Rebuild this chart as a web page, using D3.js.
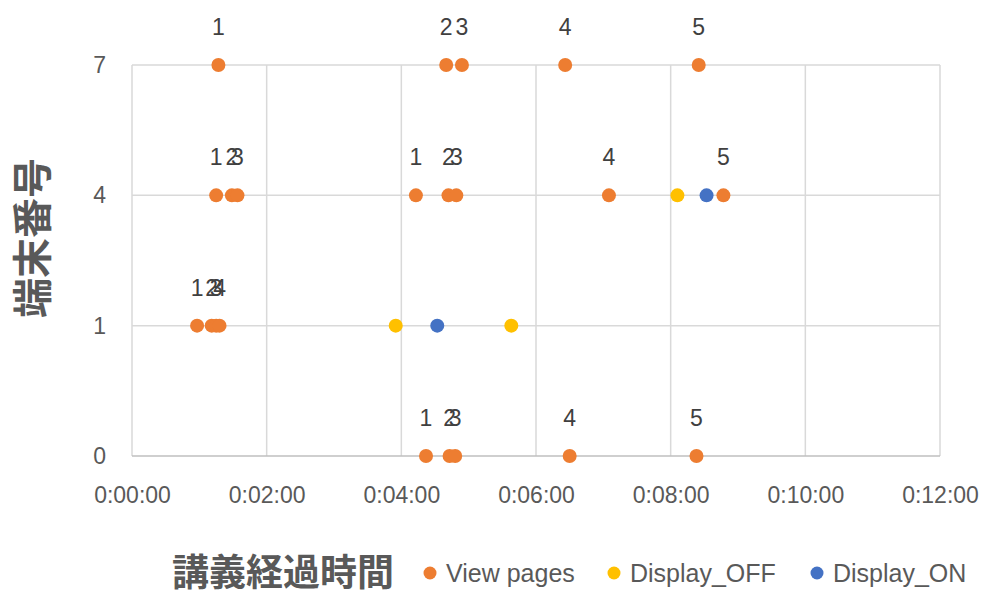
<!DOCTYPE html>
<html>
<head>
<meta charset="utf-8">
<script src="https://cdn.jsdelivr.net/npm/d3@7"></script>
<style>
  body { margin: 0; background: #fff; }
  text { font-family: "Liberation Sans", "DejaVu Sans", sans-serif; }
  .jp { font-family: "Noto Sans CJK JP", "Noto Sans CJK SC", sans-serif; }
</style>
</head>
<body>
<div id="plot"></div>
<script>
// ---- data ----
var terminalTicks = ["0", "1", "4", "7"];
var timeTicks = [0, 120, 240, 360, 480, 600, 720];
var timeTickLabels = ["0:00:00", "0:02:00", "0:04:00", "0:06:00", "0:08:00", "0:10:00", "0:12:00"];

// View pages
var viewTimes = ["0:01:17", "0:04:40", "0:04:54", "0:06:26", "0:08:25",
                 "0:01:15", "0:01:29", "0:01:34", "0:04:13", "0:04:42", "0:04:49", "0:07:05", "0:08:47",
                 "0:00:58", "0:01:11", "0:01:15", "0:01:18",
                 "0:04:22", "0:04:43", "0:04:48", "0:06:30", "0:08:23"];
var viewTerminal = ["7", "7", "7", "7", "7",
                    "4", "4", "4", "4", "4", "4", "4", "4",
                    "1", "1", "1", "1",
                    "0", "0", "0", "0", "0"];
var viewLabels = ["1", "2", "3", "4", "5",
                  "1", "2", "3", "1", "2", "3", "4", "5",
                  "1", "2", "3", "4",
                  "1", "2", "3", "4", "5"];

// Display_OFF
var offTimes = ["0:08:06", "0:03:55", "0:05:38"];
var offTerminal = ["4", "1", "1"];

// Display_ON
var onTimes = ["0:08:32", "0:04:32"];
var onTerminal = ["4", "1"];

var seriesNames = ["View pages", "Display_OFF", "Display_ON"];
var seriesColors = ["#ED7D31", "#FFC000", "#4472C4"];

/*------------------------------------------*/
function toSec(s) {
  var p = s.split(":").map(Number);
  return p[0] * 3600 + p[1] * 60 + p[2];
}

var W = 990, H = 594;
var margin = {top: 65, right: 50, bottom: 138, left: 132};
var width = W - margin.left - margin.right,
    height = H - margin.top - margin.bottom;

var svg = d3.select("#plot").append("svg")
    .attr("width", W).attr("height", H);

var chart = svg.append("g")
    .attr("transform", "translate(" + margin.left + "," + margin.top + ")");

var x = d3.scaleLinear().domain([0, 720]).range([0, width]);
var y = d3.scalePoint().domain(terminalTicks).range([height, 0]);

// grid
chart.selectAll(".vgrid").data(timeTicks).enter().append("line")
    .attr("x1", function(d) { return x(d); }).attr("x2", function(d) { return x(d); })
    .attr("y1", 0).attr("y2", height)
    .style("stroke", "#d9d9d9").style("stroke-width", 1.5);
chart.selectAll(".hgrid").data(terminalTicks).enter().append("line")
    .attr("x1", 0).attr("x2", width)
    .attr("y1", function(d) { return y(d); }).attr("y2", function(d) { return y(d); })
    .style("stroke", function(d) { return d === "0" ? "#bfbfbf" : "#d9d9d9"; })
    .style("stroke-width", 1.5);

// axes (labels only)
var xAxis = chart.append("g")
    .attr("transform", "translate(0," + height + ")")
    .call(d3.axisBottom(x).tickValues(timeTicks)
      .tickFormat(function(d, i) { return timeTickLabels[i]; })
      .tickSize(0).tickPadding(31));
var yAxis = chart.append("g")
    .call(d3.axisLeft(y).tickSize(0).tickPadding(26));
[xAxis, yAxis].forEach(function(a) {
  a.select(".domain").remove();
  a.selectAll("text")
    .style("font-family", "'Liberation Sans', sans-serif")
    .style("font-size", "23px")
    .style("fill", "#595959");
});

// points
function drawSeries(times, terms, color) {
  chart.append("g").selectAll("circle")
    .data(times.map(function(t, i) { return {t: toSec(t), y: terms[i]}; }))
    .enter().append("circle")
    .attr("cx", function(d) { return x(d.t); })
    .attr("cy", function(d) { return y(d.y); })
    .attr("r", 7)
    .style("fill", color);
}
drawSeries(viewTimes, viewTerminal, seriesColors[0]);
drawSeries(offTimes, offTerminal, seriesColors[1]);
drawSeries(onTimes, onTerminal, seriesColors[2]);

// data labels for View pages
chart.append("g").selectAll("text")
  .data(viewTimes.map(function(t, i) { return {t: toSec(t), y: viewTerminal[i], lab: viewLabels[i]}; }))
  .enter().append("text")
  .attr("x", function(d) { return x(d.t); })
  .attr("y", function(d) { return y(d.y) - 30; })
  .attr("text-anchor", "middle")
  .style("font-size", "23px")
  .style("fill", "#404040")
  .text(function(d) { return d.lab; });

// axis titles
svg.append("text").attr("class", "jp")
  .attr("transform", "translate(47,238) rotate(-90)")
  .attr("text-anchor", "middle")
  .style("font-size", "40px").style("font-weight", "bold")
  .style("fill", "#595959")
  .text("端末番号");

svg.append("text").attr("class", "jp")
  .attr("x", 172).attr("y", 586)
  .style("font-size", "37px").style("font-weight", "bold")
  .style("fill", "#595959")
  .text("講義経過時間");

// legend
var legendX = [430, 614, 817];
var legend = svg.append("g").selectAll("g")
  .data(seriesNames).enter().append("g")
  .attr("transform", function(d, i) { return "translate(" + legendX[i] + ",573)"; });
legend.append("circle").attr("r", 6.5)
  .style("fill", function(d, i) { return seriesColors[i]; });
legend.append("text").attr("x", 16).attr("y", 9)
  .style("font-size", "25px").style("fill", "#595959")
  .text(function(d) { return d; });
</script>
</body>
</html>
